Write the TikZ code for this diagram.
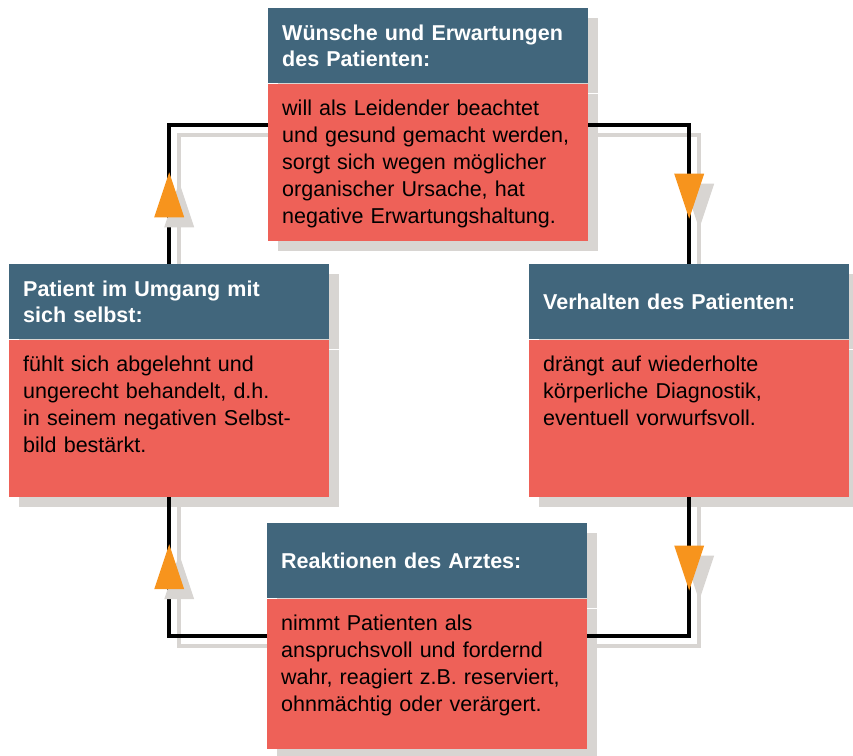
\documentclass[tikz,border=0pt]{standalone}
\usepackage{fontspec}
\setmainfont{Liberation Sans}
\usetikzlibrary{positioning,shapes.geometric,shadows,backgrounds}

\definecolor{kopfblau}{HTML}{41667C}
\definecolor{rosenrot}{HTML}{EE6158}
\definecolor{pfeilorange}{HTML}{F7941D}
\definecolor{schattengrau}{HTML}{D8D5D2}

\begin{document}
\begin{tikzpicture}[x=1pt,y=-1pt,node distance=0pt,font=\fontsize{21.5}{27}\selectfont]
       \tikzstyle{schatten}=[drop shadow={shadow xshift=10pt,shadow yshift=-10pt,fill=schattengrau,opacity=1}]
       \tikzstyle{kopf}=[schatten, fill=kopfblau, text=white, font=\fontsize{21.5}{26}\selectfont\bfseries,
         anchor=north west, minimum height=75pt, text width=292pt, inner xsep=14pt, inner ysep=0pt, align=left]
       \tikzstyle{koerper}=[schatten, fill=rosenrot, text width=292pt, inner xsep=14pt, inner ysep=0pt,
         align=left, text height=32pt, text depth=125pt]
       \tikzstyle{kreis}=[line width=3.5pt]
       \tikzstyle{eck}=[to path={-| (\tikztotarget) \tikztonodes}]
       \tikzstyle{pfeil}=[schatten, isosceles triangle, isosceles triangle stretches, fill=pfeilorange,
         draw=none, inner sep=0pt, minimum width=30pt, minimum height=45pt, pos=0.75]
       \tikzstyle{hoch}=[pfeil, shape border rotate=90, yshift=-12pt]
       \tikzstyle{runter}=[pfeil, shape border rotate=270, yshift=10pt]

       \useasboundingbox (0,0) rectangle (853,755);
       \coordinate (oben) at (0,125);
       \coordinate (unten) at (0,636);

       \node[kopf] (wunsch-kopf) at (268,8) {Wünsche und Erwartungen\\des Patienten:};
       \node[koerper, below=of wunsch-kopf] (wunsch) {will als Leidender beachtet\\und gesund gemacht werden,\\sorgt sich wegen möglicher\\organischer Ursache, hat\\negative Erwartungshaltung.};

       \node[kopf] (verhalten-kopf) at (529,264) {Verhalten des Patienten:};
       \node[koerper, below=of verhalten-kopf] (verhalten) {drängt auf wiederholte\\körperliche Diagnostik,\\eventuell vorwurfsvoll.};

       \node[kopf] (reaktion-kopf) at (267,523) {Reaktionen des Arztes:};
       \node[koerper, below=of reaktion-kopf, text depth=118pt] (reaktion) {nimmt Patienten als\\anspruchsvoll und fordernd\\wahr, reagiert z.B. reserviert,\\ohnmächtig oder verärgert.};

       \node[kopf] (umgang-kopf) at (9,264) {Patient im Umgang mit\\sich selbst:};
       \node[koerper, below=of umgang-kopf] (umgang) {fühlt sich abgelehnt und\\ungerecht behandelt, d.h.\\in seinem negativen Selbst-\\bild bestärkt.};

       \begin{scope}[on background layer]
       \path[kreis, draw=schattengrau, transform canvas={shift={(10pt,-10pt)}}]
       (wunsch.east |- oben) edge [eck] (verhalten-kopf.north)
       (reaktion.east |- unten) edge [eck] (verhalten.south)
       (reaktion.west |- unten) edge [eck] (umgang.south)
       (wunsch.west |- oben) edge [eck] (umgang-kopf.north);
       \end{scope}

       \path[kreis]
       (wunsch.east |- oben) edge [eck] node[runter] {} (verhalten-kopf.north)
       (reaktion.east |- unten) edge [eck] node[runter] {} (verhalten.south)
       (reaktion.west |- unten) edge [eck] node[hoch] {} (umgang.south)
       (wunsch.west |- oben) edge [eck] node[hoch] {} (umgang-kopf.north);
     \end{tikzpicture}
\end{document}
